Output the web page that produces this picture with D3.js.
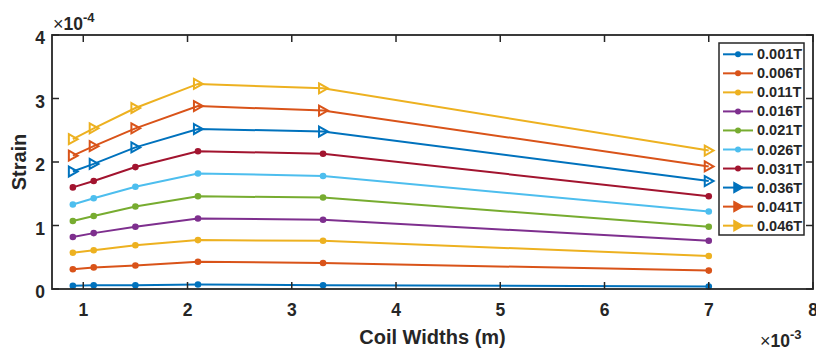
<!DOCTYPE html>
<html>
<head>
<meta charset="utf-8">
<script src="https://cdn.jsdelivr.net/npm/d3@7"></script>
<style>
body { margin: 0; background: #fff; }
text { font-family: "Liberation Sans", Arial, sans-serif; font-weight: bold; fill: #262626; }
.series path.line { fill: none; stroke-width: 2px; }
</style>
</head>
<body>
<script>
// coil widths, in units of 1e-3 m
var widths = [0.9, 1.1, 1.5, 2.1, 3.3, 7.0];
var fields = ["0.001T", "0.006T", "0.011T", "0.016T", "0.021T",
              "0.026T", "0.031T", "0.036T", "0.041T", "0.046T"];
// strain per field, in units of 1e-4
var s001 = [0.05, 0.06, 0.06, 0.07, 0.06, 0.04];
var s006 = [0.31, 0.34, 0.37, 0.43, 0.41, 0.29];
var s011 = [0.57, 0.61, 0.69, 0.77, 0.76, 0.52];
var s016 = [0.82, 0.88, 0.98, 1.11, 1.09, 0.76];
var s021 = [1.07, 1.15, 1.30, 1.46, 1.44, 0.98];
var s026 = [1.33, 1.43, 1.61, 1.82, 1.78, 1.22];
var s031 = [1.60, 1.70, 1.92, 2.17, 2.13, 1.46];
var s036 = [1.85, 1.97, 2.23, 2.52, 2.48, 1.70];
var s041 = [2.10, 2.25, 2.53, 2.88, 2.81, 1.93];
var s046 = [2.36, 2.53, 2.85, 3.23, 3.16, 2.18];
var strains = [s001, s006, s011, s016, s021, s026, s031, s036, s041, s046];
var xTicks = [1, 2, 3, 4, 5, 6, 7, 8];
var yTicks = [0, 1, 2, 3, 4];

var colors = ["#0072BD", "#D95319", "#EDB120", "#7E2F8E", "#77AC30", "#4DBEEE", "#A2142F"];

var W = 816, H = 351;
var pL = 52, pR = 813, pT = 35, pB = 289;

var svg = d3.select("body").append("svg")
    .attr("width", W).attr("height", H);

var x = d3.scaleLinear().domain([0.7, 8]).range([pL, pR]);
var y = d3.scaleLinear().domain([0, 4]).range([pB, pT]);

var axisColor = "#262626";

// series
var line = d3.line().x(function(d, i) { return x(widths[i]); }).y(function(d) { return y(d); });

function triPath(s) {
  return "M" + (-s * 0.5) + "," + (-s * 0.62) + "L" + (s * 0.6) + ",0L" + (-s * 0.5) + "," + (s * 0.62) + "Z";
}

var g = svg.append("g");
strains.forEach(function(vals, k) {
  var c = colors[k % colors.length];
  var sg = g.append("g").attr("class", "series");
  sg.append("path").attr("class", "line").attr("d", line(vals)).style("stroke", c);
  vals.forEach(function(v, i) {
    if (k < 7) {
      sg.append("circle").attr("cx", x(widths[i])).attr("cy", y(v)).attr("r", 3.3).style("fill", c);
    } else {
      sg.append("path").attr("d", triPath(8))
        .attr("transform", "translate(" + x(widths[i]) + "," + y(v) + ")")
        .style("fill", "none").style("stroke", c).style("stroke-width", 2);
    }
  });
});

// box and ticks
svg.append("rect").attr("x", pL).attr("y", pT)
  .attr("width", pR - pL).attr("height", pB - pT)
  .style("fill", "none").style("stroke", axisColor).style("stroke-width", 1.8);

var ax = svg.append("g").style("stroke", axisColor).style("stroke-width", 1.5);
xTicks.forEach(function(t) {
  ax.append("line").attr("x1", x(t)).attr("x2", x(t)).attr("y1", pB).attr("y2", pB - 7);
  ax.append("line").attr("x1", x(t)).attr("x2", x(t)).attr("y1", pT).attr("y2", pT + 7);
});
yTicks.forEach(function(t) {
  ax.append("line").attr("x1", pL).attr("x2", pL + 7).attr("y1", y(t)).attr("y2", y(t));
  ax.append("line").attr("x1", pR).attr("x2", pR - 7).attr("y1", y(t)).attr("y2", y(t));
});

svg.append("g").selectAll("text").data(xTicks).enter().append("text")
  .attr("x", function(d) { return x(d); }).attr("y", 316)
  .attr("text-anchor", "middle").style("font-size", "17.5px")
  .text(function(d) { return d; });

svg.append("g").selectAll("text").data(yTicks).enter().append("text")
  .attr("x", 45).attr("y", function(d) { return y(d) + 9; })
  .attr("text-anchor", "end").style("font-size", "17.5px")
  .text(function(d) { return d; });

// axis labels
svg.append("text").attr("x", (pL + pR) / 2).attr("y", 344)
  .attr("text-anchor", "middle").style("font-size", "20px").text("Coil Widths (m)");
svg.append("text").attr("transform", "translate(25.5," + ((pT + pB) / 2) + ") rotate(-90)")
  .attr("text-anchor", "middle").style("font-size", "20px").text("Strain");

// exponent labels
function expLabel(xp, yp, p) {
  var t = svg.append("text").attr("x", xp).attr("y", yp).style("font-size", "17.5px");
  t.append("tspan").style("font-weight", "normal").style("font-size", "18px").text("\u00d7");
  t.append("tspan").text("10");
  t.append("tspan").attr("dy", -8).style("font-size", "13px").text(p);
}
expLabel(53, 30, "-4");
expLabel(760, 347, "-3");

// legend
var lg = svg.append("g");
lg.append("rect").attr("x", 719).attr("y", 43).attr("width", 85).attr("height", 192)
  .style("fill", "#fff").style("stroke", axisColor).style("stroke-width", 1.5);
fields.forEach(function(f, k) {
  var c = colors[k % colors.length];
  var ly = 54.3 + k * 19.04;
  lg.append("line").attr("x1", 723).attr("x2", 753).attr("y1", ly).attr("y2", ly)
    .style("stroke", c).style("stroke-width", 2);
  if (k < 7) {
    lg.append("circle").attr("cx", 738).attr("cy", ly).attr("r", 3).style("fill", c);
  } else {
    lg.append("path").attr("d", triPath(8)).attr("transform", "translate(738," + ly + ")")
      .style("fill", c).style("stroke", c).style("stroke-width", 1.5);
  }
  lg.append("text").attr("x", 757).attr("y", ly + 5).style("font-size", "14.5px").text(f);
});
</script>
</body>
</html>
